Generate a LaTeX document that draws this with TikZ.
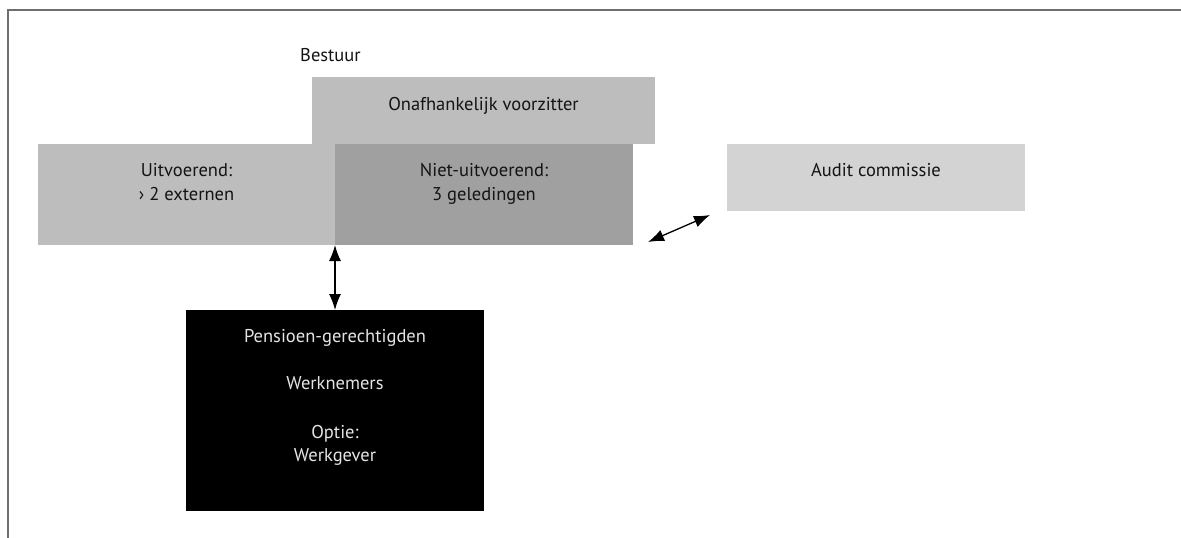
\documentclass[tikz,border=0pt]{standalone}
\usepackage{fontspec}
\setmainfont{PT Sans}
\usetikzlibrary{arrows.meta}
\definecolor{lightbox}{RGB}{189,189,189}
\definecolor{midbox}{RGB}{160,160,160}
\definecolor{paleaudit}{RGB}{211,211,211}
\definecolor{framegray}{RGB}{110,110,110}
\definecolor{txtdark}{RGB}{20,20,20}
\definecolor{txtlight}{RGB}{228,228,228}
\tikzset{
  boxshape/.style={rectangle, draw=none, inner sep=0pt, outer sep=0pt, anchor=north west},
  boxtext/.style={font=\fontsize{18.5}{24}\selectfont, text=txtdark, inner sep=0pt, anchor=base},
  whitetext/.style={boxtext, text=txtlight},
  twoway/.style={line width=1.3pt, {Latex[length=16pt,width=12pt]}-{Latex[length=16pt,width=12pt]}}
}
\begin{document}
\begin{tikzpicture}[x=1pt,y=-1pt]
\useasboundingbox (0,0) rectangle (1181,538);
% frame
\coordinate (fbl) at (8,538);
\coordinate (ftl) at (8,10);
\coordinate (ftr) at (1181,10);
\draw[framegray, line width=1.5pt] (fbl) -- (ftl) -- (ftr);

\node[boxshape, fill=lightbox, minimum width=343pt, minimum height=67pt] (voorz) at (312,77) {};
\node[boxshape, fill=lightbox, minimum width=297pt, minimum height=101pt] (uitv) at (38,144) {};
\node[boxshape, fill=midbox, minimum width=298pt, minimum height=101pt] (niet) at (335,144) {};
\node[boxshape, fill=paleaudit, minimum width=298pt, minimum height=67pt] (audit) at (727,144) {};
\node[boxshape, fill=black, minimum width=298pt, minimum height=201pt] (pens) at (186,310) {};

\node[boxtext, anchor=base west] (bestuurlbl) at (300,61) {Bestuur};
\node[boxtext] (voorzlbl) at (voorz.center |- 0,110) {Onafhankelijk voorzitter};
\node[boxtext] (uitvlbl1) at (uitv.center |- 0,176) {Uitvoerend:};
\node[boxtext] (uitvlbl2) at (uitv.center |- 0,200) {› 2 externen};
\node[boxtext] (nietlbl1) at (niet.center |- 0,176) {Niet-uitvoerend:};
\node[boxtext] (nietlbl2) at (niet.center |- 0,200) {3 geledingen};
\node[boxtext] (auditlbl) at (audit.center |- 0,176) {Audit commissie};
\node[whitetext] (penslbl1) at (pens.center |- 0,342) {Pensioen-gerechtigden};
\node[whitetext] (penslbl2) at (pens.center |- 0,389) {Werknemers};
\node[whitetext] (penslbl3) at (pens.center |- 0,438) {Optie:};
\node[whitetext] (penslbl4) at (pens.center |- 0,461) {Werkgever};

\draw[twoway] (niet.south west) -- (pens.north);
\coordinate (dA) at (648,242);
\coordinate (dB) at (710,215);
\draw[twoway] (dA) -- (dB);
\end{tikzpicture}
\end{document}
